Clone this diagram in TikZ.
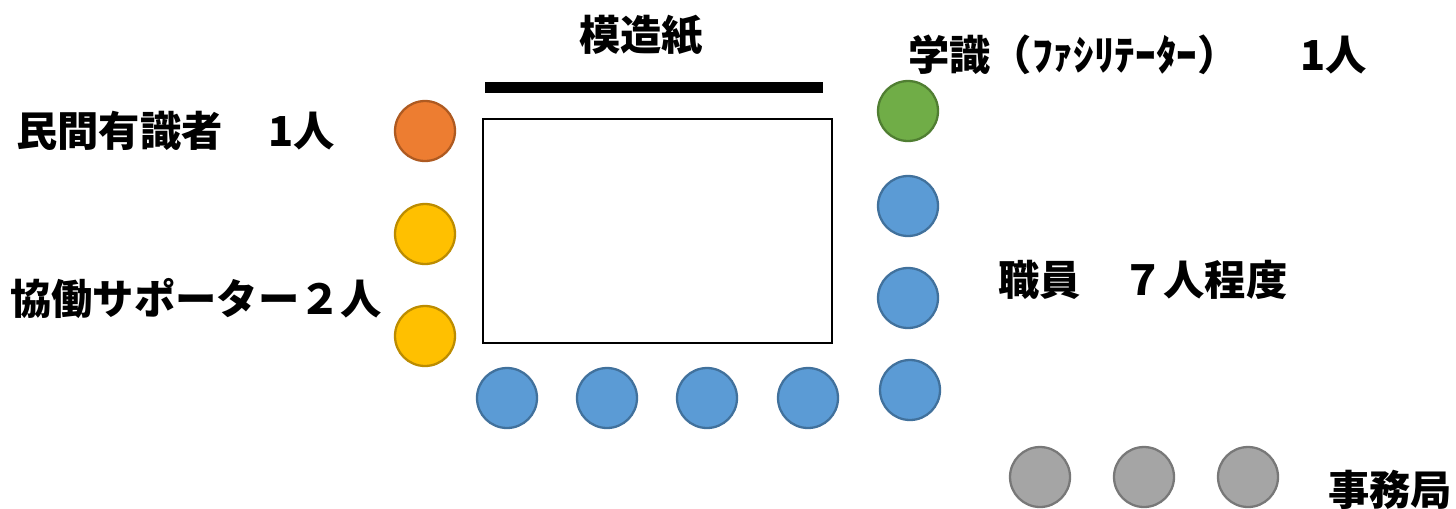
\documentclass[tikz,border=0pt]{standalone}
\usepackage{fontspec}
\setmainfont{Noto Sans CJK JP}
\definecolor{cOrange}{HTML}{ED7D31}
\definecolor{cOrangeD}{HTML}{AE5A21}
\definecolor{cYellow}{HTML}{FFC000}
\definecolor{cYellowD}{HTML}{BC8C00}
\definecolor{cGreen}{HTML}{70AD47}
\definecolor{cGreenD}{HTML}{507E32}
\definecolor{cBlue}{HTML}{5B9BD5}
\definecolor{cBlueD}{HTML}{41719C}
\definecolor{cGray}{HTML}{A5A5A5}
\definecolor{cGrayD}{HTML}{787878}
\begin{document}
\begin{tikzpicture}[x=0.02cm,y=-0.02cm,
  seat/.style={circle,minimum size=1.2cm,inner sep=0pt,line width=1.3pt},
  orangeseat/.style={seat,fill=cOrange,draw=cOrangeD},
  yellowseat/.style={seat,fill=cYellow,draw=cYellowD},
  greenseat/.style={seat,fill=cGreen,draw=cGreenD},
  blueseat/.style={seat,fill=cBlue,draw=cBlueD},
  grayseat/.style={seat,fill=cGray,draw=cGrayD},
  lbl/.style={inner sep=0pt,font=\fontsize{23.5}{28}\selectfont\bfseries}]
\useasboundingbox[fill=white] (0,0) rectangle (1456,508);
% table and paper
\node[draw=black,line width=1.3pt,minimum width=349*0.02cm,minimum height=224*0.02cm,inner sep=0pt] (table) at (657.5,231) {};
\node[fill=black,minimum width=338*0.02cm,minimum height=11*0.02cm,inner sep=0pt] (paper) at (654,87.5) {};
\node[lbl] (paperlbl) at (641,35) {模造紙};
% seats
\node[orangeseat] (o1) at (425,131) {};
\node[yellowseat] (y1) at (425,234) {};
\node[yellowseat] (y2) at (425,336) {};
\node[greenseat] (g1) at (908,111) {};
\node[blueseat] (b1) at (908,206) {};
\node[blueseat] (b2) at (908,298) {};
\node[blueseat] (b3) at (910,390) {};
\node[blueseat] (b4) at (507,398) {};
\node[blueseat] (b5) at (607,398) {};
\node[blueseat] (b6) at (707,398) {};
\node[blueseat] (b7) at (808,398) {};
\node[grayseat] (s1) at (1040,477) {};
\node[grayseat] (s2) at (1144,477) {};
\node[grayseat] (s3) at (1248,477) {};
% labels
\node[lbl,anchor=west] (gakushiki) at (908,55) {学識（ﾌｧｼﾘﾃｰﾀｰ）\hspace{1.5em}1人};
\node[lbl,anchor=west] (minkan) at (16,131) {民間有識者\hspace{1.1em}1人};
\node[lbl,anchor=west] (kyodo) at (10,298) {協働サポーター２人};
\node[lbl,anchor=west] (shokuin) at (998,280) {職員　７人程度};
\node[lbl,anchor=west] (jimu) at (1328,490) {事務局};
\end{tikzpicture}
\end{document}
